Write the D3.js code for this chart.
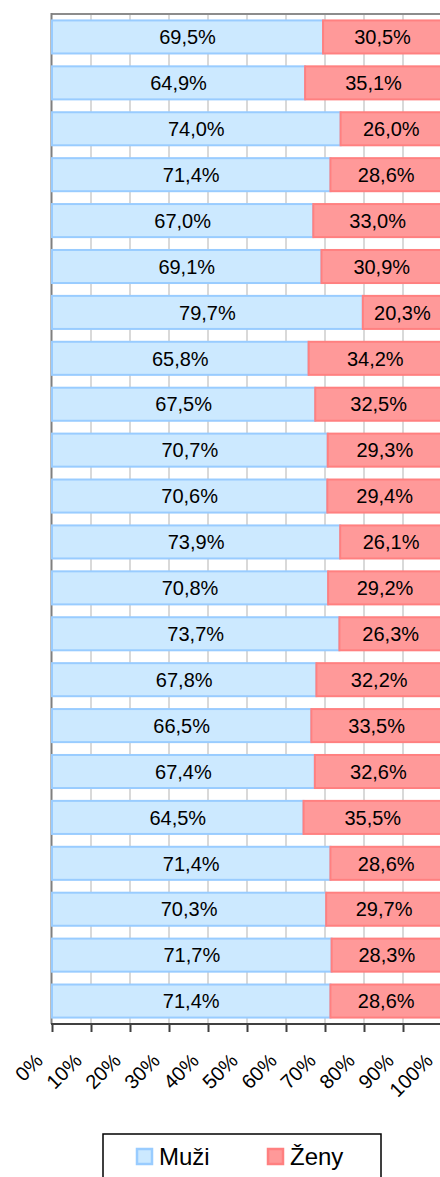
<!DOCTYPE html>
<html>
<head>
<meta charset="utf-8">
<script src="https://cdn.jsdelivr.net/npm/d3@7"></script>
<style>
  html, body { margin: 0; padding: 0; background: #fff; }
  svg { display: block; font-family: "Liberation Sans", Arial, sans-serif; }
</style>
</head>
<body>
<svg id="chart" width="440" height="1177"></svg>
<script>
const categories = ["1","2","3","4","5","6","7","8","9","10","11","12","13","14","15","16","17","18","19","20","21","22"];
const muzi = [69.5, 64.9, 74.0, 71.4, 67.0, 69.1, 79.7, 65.8, 67.5, 70.7, 70.6, 73.9, 70.8, 73.7, 67.8, 66.5, 67.4, 64.5, 71.4, 70.3, 71.7, 71.4];
const zeny = [30.5, 35.1, 26.0, 28.6, 33.0, 30.9, 20.3, 34.2, 32.5, 29.3, 29.4, 26.1, 29.2, 26.3, 32.2, 33.5, 32.6, 35.5, 28.6, 29.7, 28.3, 28.6];
const tickValues = [0, 10, 20, 30, 40, 50, 60, 70, 80, 90, 100];
const seriesNames = ["Muži", "Ženy"];

(function () {
const fmt = v => v.toFixed(1).replace(".", ",") + "%";

const svg = d3.select("#chart");
const pL = 52, pR = 442, pT = 14, pB = 1024;

const x = d3.scaleLinear().domain([0, 100]).range([pL, pR]);
const y = d3.scaleBand().domain(categories).range([pT, pB]).paddingInner(0.28).paddingOuter(0.14);

// vertical grid
svg.append("g").selectAll("line").data(tickValues.slice(1)).join("line")
  .attr("x1", d => x(d)).attr("x2", d => x(d))
  .attr("y1", pT).attr("y2", pB)
  .attr("stroke", "#d9d9d9").attr("stroke-width", 2);

// top border
svg.append("line").attr("x1", pL).attr("x2", 440).attr("y1", pT).attr("y2", pT)
  .attr("stroke", "#8c8c8c").attr("stroke-width", 2);

// left axis line
svg.append("line").attr("x1", pL - 0.5).attr("x2", pL - 0.5).attr("y1", pT - 1).attr("y2", pB)
  .attr("stroke", "#7f7f7f").attr("stroke-width", 2);

const rows = categories.map((c, i) => ({c, m: muzi[i], z: zeny[i]}));

const g = svg.append("g");
g.selectAll("rect.m").data(rows).join("rect").attr("class", "m")
  .attr("x", x(0)).attr("y", d => y(d.c))
  .attr("width", d => x(d.m) - x(0)).attr("height", y.bandwidth())
  .attr("fill", "#cce9ff").attr("stroke", "#99ccff").attr("stroke-width", 2);
g.selectAll("rect.z").data(rows).join("rect").attr("class", "z")
  .attr("x", d => x(d.m)).attr("y", d => y(d.c))
  .attr("width", d => x(d.m + d.z) - x(d.m)).attr("height", y.bandwidth())
  .attr("fill", "#ff9999").attr("stroke", "#ff8080").attr("stroke-width", 2);

g.selectAll("text.m").data(rows).join("text").attr("class", "m")
  .attr("x", d => (x(0) + x(d.m)) / 2).attr("y", d => y(d.c) + y.bandwidth() / 2)
  .attr("dy", "0.36em").attr("text-anchor", "middle")
  .attr("font-size", 20).attr("fill", "#000").text(d => fmt(d.m));
g.selectAll("text.z").data(rows).join("text").attr("class", "z")
  .attr("x", d => (x(d.m) + x(d.m + d.z)) / 2).attr("y", d => y(d.c) + y.bandwidth() / 2)
  .attr("dy", "0.36em").attr("text-anchor", "middle")
  .attr("font-size", 20).attr("fill", "#000").text(d => fmt(d.z));

// bottom axis
const ax = svg.append("g").attr("transform", `translate(0,${pB})`)
  .call(d3.axisBottom(x).tickValues(tickValues).tickSize(8).tickFormat(""));
ax.select(".domain").attr("stroke", "#404040").attr("stroke-width", 2).attr("d", `M${pL - 1},0H${pR}`);
ax.selectAll(".tick line").attr("stroke", "#404040").attr("stroke-width", 2);
ax.selectAll(".tick text").remove();

svg.append("g").selectAll("text").data(tickValues).join("text")
  .attr("transform", d => `translate(${x(d) - 8},${pB + 38}) rotate(-45)`)
  .attr("text-anchor", "end").attr("font-size", 20).attr("fill", "#000")
  .text(d => d + "%");

// legend
const lg = svg.append("g");
lg.append("rect").attr("x", 103).attr("y", 1134).attr("width", 278).attr("height", 60)
  .attr("fill", "none").attr("stroke", "#000").attr("stroke-width", 1.5);
const legItems = [
  {name: seriesNames[0], fill: "#cce9ff", stroke: "#99ccff", sx: 137, tx: 159},
  {name: seriesNames[1], fill: "#ff9999", stroke: "#ff8080", sx: 268, tx: 290}
];
legItems.forEach(it => {
  lg.append("rect").attr("x", it.sx).attr("y", 1149).attr("width", 15).attr("height", 15)
    .attr("fill", it.fill).attr("stroke", it.stroke).attr("stroke-width", 2.5);
  lg.append("text").attr("x", it.tx).attr("y", 1165).attr("font-size", 24).attr("fill", "#000").text(it.name);
});
})();
</script>
</body>
</html>
